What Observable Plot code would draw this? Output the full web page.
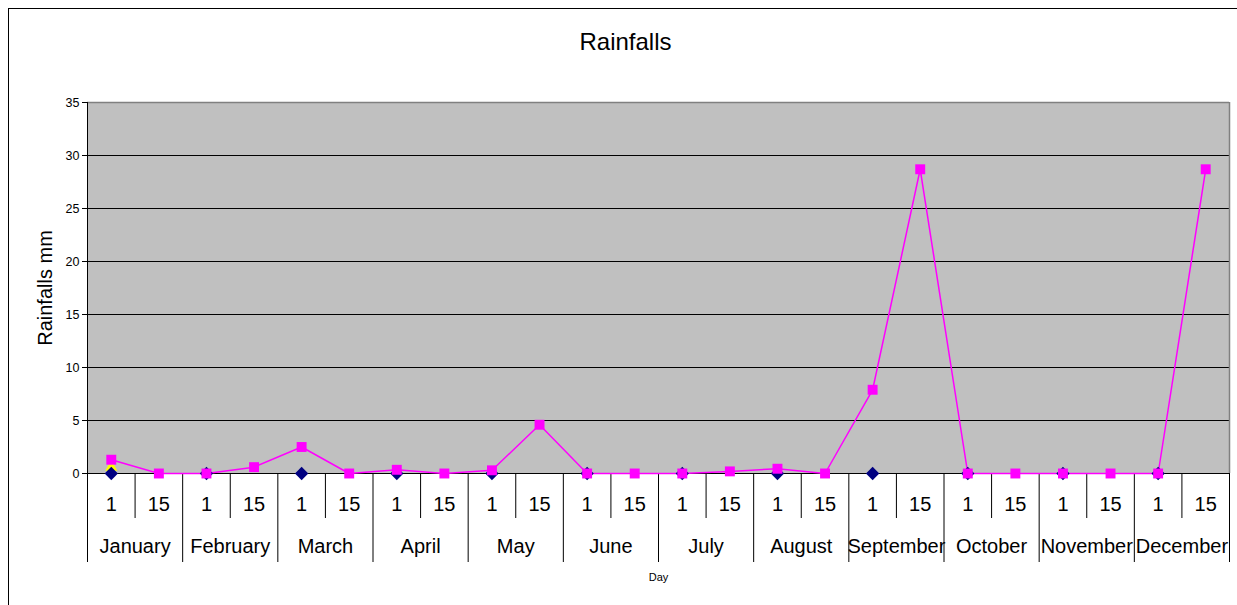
<!DOCTYPE html>
<html>
<head>
<meta charset="utf-8">
<script src="https://cdn.jsdelivr.net/npm/d3@7"></script>
<script src="https://cdn.jsdelivr.net/npm/@observablehq/plot@0.6"></script>
<style>
  html, body { margin: 0; padding: 0; background: #fff; }
  body { width: 1237px; height: 605px; position: relative; overflow: hidden; font-family: "Liberation Sans", Arial, sans-serif; }
  #frame { position: absolute; left: 8px; top: 8px; width: 1240px; height: 610px; border-left: 1px solid #000; border-top: 1px solid #000; pointer-events: none; }
  #title { height: 80px; line-height: 84px; text-align: center; font-size: 24px; color: #000; padding-left: 14px; box-sizing: border-box; }
</style>
</head>
<body>
<div id="title">Rainfalls</div>
<div id="chart"></div>
<div id="frame"></div>
<script>
const months = ["January","February","March","April","May","June","July","August","September","October","November","December"];
const days = ["1", "15"];
// series values, one per half-month (24 entries)
const seriesPink   = [1.3, 0, 0, 0.6, 2.5, 0, 0.35, 0, 0.3, 4.6, 0, 0, 0, 0.2, 0.45, 0, 7.9, 28.7, 0, 0, 0, 0, 0, 28.7];
const seriesNavy   = [0, null, 0, null, 0, null, 0, null, 0, null, 0, null, 0, null, 0, null, 0, null, 0, null, 0, null, 0, null];
const seriesYellow = [0.6, null, null, null, null, null, null, null, null, null, null, null, null, null, null, null, null, null, null, null, null, null, null, null];
const yTicks = [0, 5, 10, 15, 20, 25, 30, 35];

const rows = d3.range(24).map(i => ({
  i, month: months[Math.floor(i / 2)], day: days[i % 2],
  pink: seriesPink[i], navy: seriesNavy[i], yellow: seriesYellow[i]
}));
const monthRows = months.map((m, k) => ({k, m}));

const W = 1237, H = 525, mT = 22, mB = 132, mL = 87, mR = 8;
const plotH = H - mT - mB;

const plot = Plot.plot({
  width: W, height: H,
  marginTop: mT, marginBottom: mB, marginLeft: mL, marginRight: mR,
  style: { fontFamily: "'Liberation Sans', Arial, sans-serif", background: "transparent", color: "#000" },
  x: { type: "linear", domain: [0, 24], axis: null },
  y: { domain: [0, 35], axis: null },
  marks: [
    Plot.frame({ fill: "#c0c0c0", stroke: null }),
    Plot.ruleY(yTicks.filter(d => d < 35), { stroke: "#000", strokeWidth: 1 }),
    Plot.ruleY([35], { stroke: "#808080", strokeWidth: 1.5 }),
    Plot.ruleX([24], { stroke: "#808080", strokeWidth: 1.5 }),
    Plot.ruleX([0], { stroke: "#000" }),
    Plot.axisY({ ticks: yTicks, tickSize: 5, tickPadding: 3, fontSize: 12.5, label: null, tickFormat: d => String(d) }),
    Plot.text(["Rainfalls mm"], { frameAnchor: "left", textAnchor: "middle", rotate: -90, dx: -42, fontSize: 20, fill: "#000" }),
    // x category separators
    Plot.ruleX(d3.range(1, 24, 2), { stroke: "#000", insetTop: plotH, insetBottom: -45 }),
    Plot.ruleX(d3.range(0, 25, 2), { stroke: "#000", insetTop: plotH, insetBottom: -89 }),
    Plot.text(rows, { x: d => d.i + 0.5, y: () => 0, text: "day", dy: 31, fontSize: 20, fill: "#000", style: "letter-spacing:1px" }),
    Plot.text(monthRows, { x: d => 2 * d.k + 1, y: () => 0, text: "m", dy: 73, fontSize: 20, fill: "#000" }),
    Plot.text(["Day"], { frameAnchor: "bottom", dy: 107, fontSize: 11, fill: "#000" }),
    // series
    Plot.dot(rows.filter(d => d.yellow != null), { x: d => d.i + 0.5, y: "yellow", symbol: "triangle", r: 4.5, fill: "#ffff00", stroke: null }),
    Plot.line(rows, { x: d => d.i + 0.5, y: "pink", stroke: "#ff00ff", strokeWidth: 1.5 }),
    Plot.dot(rows.filter(d => d.navy != null), { x: d => d.i + 0.5, y: "navy", symbol: "diamond2", r: 6, fill: "#000080", stroke: null }),
    Plot.dot(rows, { x: d => d.i + 0.5, y: "pink", symbol: "square", r: 5.6, fill: "#ff00ff", stroke: null })
  ]
});
document.getElementById("chart").appendChild(plot);
</script>
</body>
</html>
